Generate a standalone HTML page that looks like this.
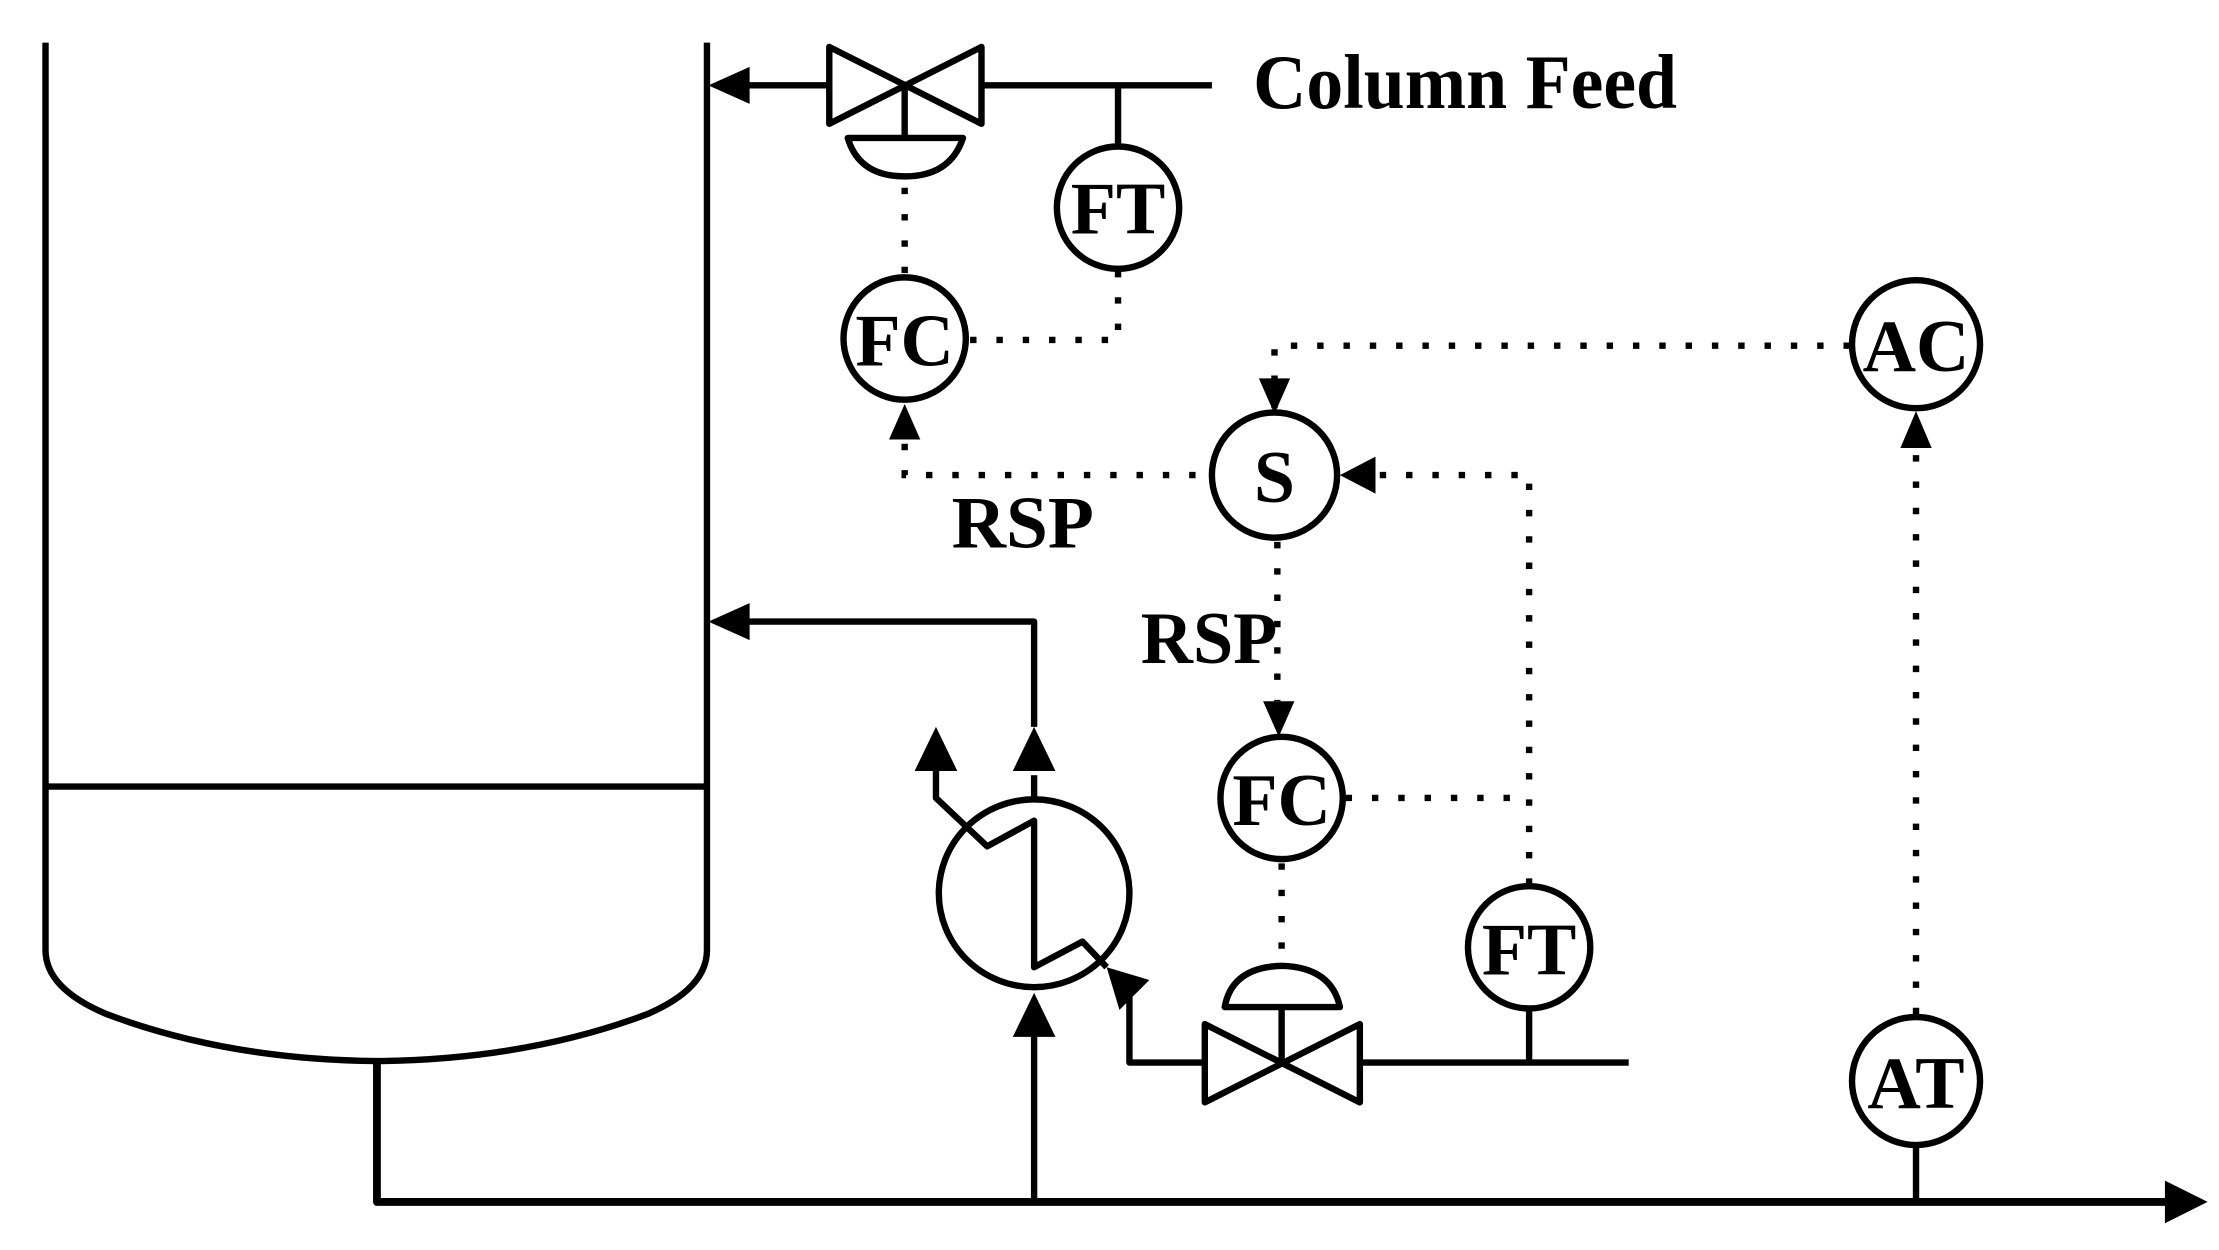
<!DOCTYPE html>
<html><head><meta charset="utf-8"><style>
html,body{margin:0;padding:0;background:#fff;}
svg{display:block;}
text{font-family:"Liberation Serif",serif;font-weight:bold;fill:#000;}
</style></head><body>
<svg width="2219" height="1250" viewBox="0 0 1560 878.8" preserveAspectRatio="none" xmlns="http://www.w3.org/2000/svg">
<g fill="none" stroke="#000" stroke-width="4.5" stroke-linejoin="round">
<!-- column -->
<path d="M32 30 V668 Q32 695 75 713 Q160 745 265 746 Q370 745 455 713 Q497 695 497 668 V30"/>
<line x1="32" y1="553" x2="497" y2="553"/>
<!-- bottom outlet -->
<polyline points="265,746 265,845 1525,845" stroke-width="5.5"/>
<!-- feed line -->
<line x1="515" y1="60" x2="583" y2="60"/>
<line x1="690" y1="60" x2="852" y2="60"/>
<path d="M583 33 L690 87 L690 33 L583 87 Z"/>
<line x1="636" y1="60" x2="636" y2="97"/>
<path d="M596 97 H677 Q668 124 636 124 Q604 124 596 97 Z"/>
<line x1="786" y1="60" x2="786" y2="102"/>
<circle cx="786" cy="146" r="43"/>
<circle cx="636" cy="238" r="43"/>
<!-- reflux return -->
<polyline points="727,511 727,437 515,437"/>
<!-- exchanger -->
<ellipse cx="727" cy="628" rx="67" ry="66"/>
<polyline points="727,545 727,562"/>
<polyline points="658,540 658,561 694,595 727,577 727,680 761,662 778,680"/>
<line x1="727" y1="728" x2="727" y2="845"/>
<polyline points="794,700 794,747 847,747"/>
<!-- valve 2 -->
<path d="M847 720 L956 775 L956 720 L847 775 Z"/>
<line x1="901" y1="747" x2="901" y2="708"/>
<path d="M861 708 H942 Q936 680 901 679 Q866 680 861 708 Z"/>
<line x1="956" y1="747" x2="1145" y2="747"/>
<line x1="1075" y1="747" x2="1075" y2="709"/>
<circle cx="1075" cy="666" r="43"/>
<circle cx="896" cy="334" r="44"/>
<circle cx="901" cy="561" r="43"/>
<circle cx="1347" cy="242" r="45"/>
<circle cx="1347" cy="760" r="45"/>
<line x1="1347" y1="805" x2="1347" y2="845"/>
</g>
<!-- arrowheads -->
<g fill="#000">
<polygon points="498,60 527,47 527,73"/>
<polygon points="498,437 527,424 527,450"/>
<polygon points="1552,845 1522,830 1522,860"/>
<polygon points="658,511 643,542 673,542"/>
<polygon points="727,511 712,542 742,542"/>
<polygon points="727,698 712,729 742,729"/>
<polygon points="778,680 808,689 787,710"/>
<polygon points="636,284 625,309 647,309"/>
<polygon points="896,291 885,266 907,266"/>
<polygon points="942,334 967,321 967,347"/>
<polygon points="899,518 888,493 910,493"/>
<polygon points="1347,289 1336,315 1358,315"/>
</g>
<!-- dotted signal lines -->
<g fill="none" stroke="#000" stroke-width="4.5" stroke-dasharray="4.5 14">
<line x1="636" y1="132" x2="636" y2="195"/>
<polyline points="682,239 786,239 786,190"/>
<polyline points="636,312 636,334 851,334"/>
<polyline points="896,287 896,243 1300,243"/>
<polyline points="970,334 1075,334 1075,622"/>
<line x1="898" y1="381" x2="898" y2="493"/>
<line x1="946" y1="561" x2="1075" y2="561"/>
<line x1="901" y1="607" x2="901" y2="678"/>
<line x1="1347" y1="320" x2="1347" y2="713"/>
</g>
<!-- labels -->
<g text-anchor="middle" font-size="52">
<text x="786" y="164">FT</text>
<text x="636" y="257">FC</text>
<text x="896" y="353">S</text>
<text x="901" y="580">FC</text>
<text x="1075" y="685">FT</text>
<text x="1347" y="261">AC</text>
<text x="1347" y="779">AT</text>
</g>
<text x="881" y="76" font-size="54" textLength="298" lengthAdjust="spacingAndGlyphs">Column Feed</text>
<text x="669" y="385" font-size="52" textLength="100" lengthAdjust="spacingAndGlyphs">RSP</text>
<text x="802" y="466" font-size="52" textLength="96" lengthAdjust="spacingAndGlyphs">RSP</text>
</svg>
</body></html>
